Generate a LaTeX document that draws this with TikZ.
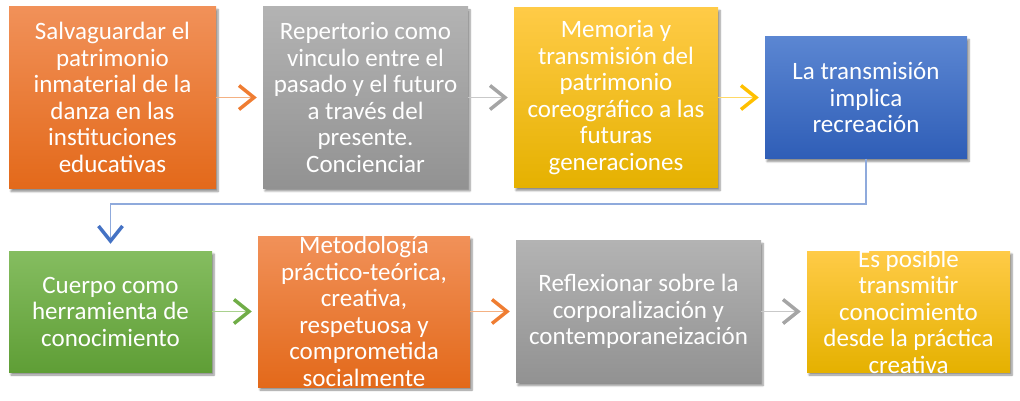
\documentclass[tikz,border=0pt]{standalone}
\usepackage{fontspec}
\setmainfont{Carlito}
\usetikzlibrary{arrows.meta,shadows.blur}
\definecolor{oT}{HTML}{F19159}\definecolor{oM}{HTML}{EF7D32}\definecolor{oB}{HTML}{E3691A}
\definecolor{gT}{HTML}{B3B3B3}\definecolor{gM}{HTML}{A5A5A5}\definecolor{gB}{HTML}{929292}
\definecolor{yT}{HTML}{FFCB47}\definecolor{yM}{HTML}{FFC000}\definecolor{yB}{HTML}{E5B100}
\definecolor{bT}{HTML}{5B86D2}\definecolor{bM}{HTML}{4472C4}\definecolor{bB}{HTML}{2F5EB7}
\definecolor{nT}{HTML}{85BD60}\definecolor{nM}{HTML}{70AD47}\definecolor{nB}{HTML}{5F9E36}
\definecolor{oL}{HTML}{F4B183}\definecolor{gL}{HTML}{C9C9C9}\definecolor{yL}{HTML}{FFD966}
\definecolor{nL}{HTML}{A9D18E}\definecolor{bL}{HTML}{8FAADC}
\begin{document}
\begin{tikzpicture}[x=1pt,y=1pt,
  box/.style={draw=none, inner sep=0pt, shading angle=0,
    blur shadow={shadow xshift=2pt, shadow yshift=-3pt, shadow blur steps=6, shadow opacity=45}},
  obox/.style={box, top color=oT, middle color=oM, bottom color=oB},
  gbox/.style={box, top color=gT, middle color=gM, bottom color=gB},
  ybox/.style={box, top color=yT, middle color=yM, bottom color=yB},
  bbox/.style={box, top color=bT, middle color=bM, bottom color=bB},
  nbox/.style={box, top color=nT, middle color=nM, bottom color=nB},
  txt/.style={text=white, align=center, inner sep=0pt, font=\fontsize{25}{26.5}\selectfont},
  arr/.style={line width=1.5pt, shorten >=6pt},
  tip/.style={-{Straight Barb[length=15pt,width=24pt,line width=3.5pt,color=#1]}},
  oarr/.style={arr, draw=oL, tip=oM},
  garr/.style={arr, draw=gL, tip=gM},
  yarr/.style={arr, draw=yL, tip=yM},
  narr/.style={arr, draw=nL, tip=nM},
  barr/.style={line width=1.2pt, draw=bL, shorten >=7pt, tip=bM}
]
\useasboundingbox (0,0) rectangle (1020,400);
% row 1
\node[obox, minimum width=207pt, minimum height=182pt] (b1) at (112.5,302.5) {};
\node[gbox, minimum width=205pt, minimum height=181pt] (b2) at (365.5,302.5) {};
\node[ybox, minimum width=204pt, minimum height=180pt] (b3) at (616,302.5) {};
\node[bbox, minimum width=202pt, minimum height=122pt] (b4) at (866,302.5) {};
% row 2
\node[nbox, minimum width=203pt, minimum height=121pt] (b5) at (110.5,88.5) {};
\node[obox, minimum width=212pt, minimum height=151pt] (b6) at (364,88.5) {};
\node[gbox, minimum width=245pt, minimum height=142pt] (b7) at (638.5,88.5) {};
\node[ybox, minimum width=203pt, minimum height=121pt] (b8) at (908.5,88.5) {};
% texts
\node[txt] (t1) at (b1) {Salvaguardar el\\patrimonio\\inmaterial de la\\danza en las\\instituciones\\educativas};
\node[txt] (t2) at (b2) {Repertorio como\\vinculo entre el\\pasado y el futuro\\a través del\\presente.\\Concienciar};
\node[txt] (t3) at (b3) {Memoria y\\transmisión del\\patrimonio\\coreográfico a las\\futuras\\generaciones};
\node[txt] (t4) at (b4) {La transmisión\\implica\\recreación};
\node[txt] (t5) at (b5) {Cuerpo como\\herramienta de\\conocimiento};
\node[txt] (t6) at (b6) {Metodología\\práctico-teórica,\\creativa,\\respetuosa y\\comprometida\\socialmente};
\node[txt] (t7) at (b7) {Reflexionar sobre la\\corporalización y\\contemporaneización};
\node[txt] (t8) at (b8) {Es posible\\transmitir\\conocimiento\\desde la práctica\\creativa};
% connectors
\draw[oarr] (b1.east) -- (b2.west);
\draw[garr] (b2.east) -- (b3.west);
\draw[yarr] (b3.east) -- (b4.west);
\draw[barr] (b4.south) -- (b4.south |- 0,196) -| (b5.north);
\draw[narr] (b5.east) -- (b6.west);
\draw[oarr] (b6.east) -- (b7.west);
\draw[garr] (b7.east) -- (b8.west);
\end{tikzpicture}
\end{document}
